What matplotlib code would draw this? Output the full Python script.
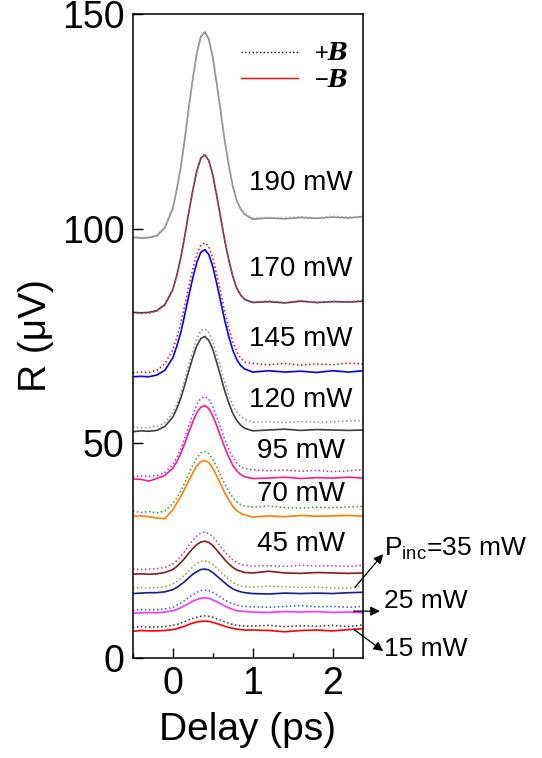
import matplotlib
matplotlib.use("Agg")
import matplotlib.pyplot as plt
from matplotlib.lines import Line2D
from matplotlib.ticker import MultipleLocator

plt.rcParams['font.family'] = ['Liberation Sans', 'DejaVu Sans']
plt.rcParams['mathtext.fontset'] = 'custom'
plt.rcParams['mathtext.rm'] = 'Liberation Sans'
plt.rcParams['mathtext.it'] = 'Liberation Sans:italic'
plt.rcParams['mathtext.bf'] = 'Liberation Sans:bold'
plt.rcParams['mathtext.bfit'] = 'DejaVu Serif:italic:bold'

# delay axis (ps)
delay = [-0.5, -0.4, -0.3, -0.2, -0.1, 0.0, 0.05, 0.1, 0.15, 0.2, 0.25, 0.3, 0.35, 0.4, 0.45, 0.5,
         0.55, 0.6, 0.65, 0.7, 0.75, 0.8, 0.85, 0.9, 1.0, 1.2, 1.4, 1.6, 1.8, 2.0, 2.2, 2.38]

# R (uV) for -B (solid) and +B (dotted), one pair per power
r190_neg = [98.0, 97.8, 97.9, 98.3, 100.2, 104.7, 109.1, 114.3, 120.9, 128.2, 134.9, 140.8, 144.7, 145.8, 144.2, 139.9,
            133.7, 127.1, 120.4, 114.7, 109.9, 106.5, 104.5, 103.3, 102.2, 102.5, 102.3, 102.6, 102.4, 102.7, 102.5, 102.8]
r190_pos = [98.2, 98.0, 98.1, 98.5, 100.4, 104.9, 109.3, 114.5, 121.0, 128.3, 135.0, 140.9, 144.8, 145.9, 144.4, 140.1,
            133.9, 127.3, 120.6, 114.9, 110.1, 106.7, 104.7, 103.5, 102.5, 102.6, 102.6, 102.8, 102.5, 102.9, 102.7, 102.9]
r170_neg = [80.5, 80.4, 80.5, 80.9, 82.3, 85.8, 89.1, 93.2, 98.3, 103.8, 108.9, 113.4, 116.4, 117.2, 115.9, 112.5,
            107.6, 102.4, 97.2, 92.7, 88.9, 86.1, 84.5, 83.5, 82.8, 83.0, 82.7, 83.1, 82.8, 83.0, 82.9, 83.1]
r170_pos = [80.3, 80.2, 80.3, 80.7, 82.1, 85.7, 89.0, 93.1, 98.2, 103.7, 108.9, 113.4, 116.5, 117.3, 116.0, 112.6,
            107.8, 102.6, 97.4, 92.9, 89.1, 86.3, 84.6, 83.6, 82.9, 83.2, 82.8, 83.3, 82.7, 83.1, 83.0, 83.3]
r145_neg = [65.5, 65.6, 65.5, 65.9, 67.0, 69.9, 72.6, 75.8, 80.0, 84.4, 88.5, 92.1, 94.5, 95.1, 94.0, 91.2,
            87.2, 82.9, 78.6, 74.9, 71.7, 69.5, 68.1, 67.3, 66.6, 66.9, 66.6, 66.8, 66.5, 66.9, 66.6, 66.9]
r145_pos = [66.4, 66.6, 66.5, 67.0, 68.5, 71.8, 74.6, 78.0, 82.2, 86.7, 90.6, 94.0, 96.2, 96.7, 95.8, 93.2,
            89.3, 85.0, 80.7, 76.9, 73.7, 71.3, 69.8, 68.9, 68.6, 68.3, 68.6, 68.2, 68.5, 68.3, 68.7, 68.4]
r120_neg = [52.7, 52.9, 52.8, 53.0, 53.9, 56.1, 58.1, 60.5, 63.6, 66.9, 70.0, 72.7, 74.4, 74.9, 74.0, 71.9,
            68.8, 65.5, 62.2, 59.4, 57.0, 55.3, 54.2, 53.5, 52.9, 53.1, 53.3, 53.0, 53.2, 53.1, 53.0, 53.1]
r120_pos = [53.8, 53.6, 53.7, 53.9, 54.8, 57.1, 59.1, 61.7, 64.8, 68.3, 71.5, 74.3, 76.2, 76.7, 75.9, 73.7,
            70.7, 67.4, 64.1, 61.3, 58.9, 57.2, 56.2, 55.6, 54.9, 55.0, 54.8, 55.1, 54.9, 55.0, 55.2, 55.3]
r95_neg = [41.7, 41.6, 41.2, 41.8, 42.5, 44.2, 45.7, 47.6, 50.0, 52.6, 55.0, 57.1, 58.4, 58.8, 58.1, 56.4,
           54.1, 51.5, 49.0, 46.8, 44.9, 43.6, 42.7, 42.2, 41.8, 41.9, 42.1, 41.8, 42.0, 41.9, 42.1, 41.9]
r95_pos = [42.2, 42.4, 42.3, 42.5, 43.2, 45.0, 46.7, 48.7, 51.3, 54.1, 56.7, 59.0, 60.5, 60.9, 60.3, 58.5,
           56.1, 53.5, 50.9, 48.6, 46.7, 45.4, 44.5, 44.1, 43.8, 43.6, 43.8, 43.5, 43.7, 43.4, 43.6, 43.9]
r70_neg = [33.0, 33.1, 32.9, 32.6, 32.4, 34.5, 36.1, 37.6, 39.4, 41.3, 43.1, 44.7, 45.7, 46.0, 45.5, 44.2,
           42.4, 40.4, 38.5, 36.8, 35.3, 34.3, 33.7, 33.3, 32.8, 33.1, 32.9, 33.2, 33.0, 33.1, 33.2, 33.0]
r70_pos = [34.2, 33.9, 34.1, 33.8, 34.2, 36.0, 37.3, 38.9, 40.8, 42.9, 44.9, 46.6, 47.8, 48.1, 47.6, 46.3,
           44.5, 42.5, 40.5, 38.8, 37.4, 36.4, 35.7, 35.4, 35.1, 35.4, 35.0, 34.9, 35.1, 35.0, 35.2, 35.3]
r45_neg = [19.5, 19.6, 19.5, 19.6, 19.9, 20.6, 21.3, 22.2, 23.2, 24.4, 25.5, 26.4, 27.0, 27.2, 26.9, 26.2,
           25.1, 24.0, 22.9, 21.9, 21.1, 20.5, 20.2, 19.9, 19.8, 20.2, 19.8, 19.7, 19.9, 19.8, 19.7, 19.8]
r45_pos = [20.8, 20.6, 20.7, 20.8, 21.1, 21.9, 22.7, 23.7, 24.8, 26.2, 27.4, 28.4, 29.1, 29.3, 29.0, 28.2,
           27.1, 25.9, 24.7, 23.7, 22.8, 22.2, 21.8, 21.6, 21.4, 21.5, 21.3, 21.6, 21.4, 21.5, 21.3, 21.6]
r35_neg = [15.0, 15.1, 15.2, 15.2, 15.4, 15.9, 16.4, 17.1, 17.8, 18.7, 19.5, 20.1, 20.6, 20.7, 20.5, 19.9,
           19.1, 18.3, 17.5, 16.7, 16.1, 15.7, 15.4, 15.2, 15.0, 14.9, 15.1, 15.0, 15.1, 15.0, 15.2, 15.3]
r35_pos = [16.2, 16.4, 16.3, 16.4, 16.6, 17.2, 17.8, 18.5, 19.4, 20.3, 21.2, 22.0, 22.5, 22.6, 22.4, 21.8,
           20.9, 20.0, 19.1, 18.3, 17.6, 17.1, 16.8, 16.6, 16.5, 16.7, 16.6, 16.4, 16.5, 16.3, 16.2, 16.9]
r25_neg = [10.4, 10.5, 10.6, 10.5, 10.7, 11.0, 11.3, 11.7, 12.2, 12.7, 13.2, 13.6, 13.9, 14.0, 13.9, 13.5,
           13.1, 12.6, 12.1, 11.7, 11.3, 11.0, 10.9, 10.8, 10.7, 10.6, 10.8, 10.7, 10.8, 10.6, 10.7, 10.5]
r25_pos = [11.1, 11.3, 11.2, 11.2, 11.4, 11.8, 12.3, 12.8, 13.4, 14.1, 14.7, 15.3, 15.7, 15.8, 15.7, 15.3,
           14.7, 14.1, 13.5, 13.0, 12.6, 12.3, 12.1, 12.0, 11.9, 11.8, 12.0, 12.2, 11.9, 12.0, 11.8, 12.0]
r15_neg = [6.2, 6.4, 6.3, 6.3, 6.4, 6.6, 6.8, 7.1, 7.4, 7.8, 8.1, 8.4, 8.5, 8.6, 8.5, 8.3,
           8.0, 7.7, 7.4, 7.1, 6.9, 6.7, 6.6, 6.5, 6.5, 6.4, 6.1, 6.4, 6.5, 6.3, 6.6, 6.8]
r15_pos = [7.1, 7.3, 7.2, 7.2, 7.3, 7.6, 7.8, 8.1, 8.5, 8.9, 9.2, 9.5, 9.7, 9.8, 9.7, 9.5,
           9.1, 8.8, 8.4, 8.1, 7.8, 7.6, 7.5, 7.4, 7.4, 7.6, 7.3, 7.5, 7.4, 7.6, 7.3, 7.7]

curves_neg = [r190_neg, r170_neg, r145_neg, r120_neg, r95_neg, r70_neg, r45_neg, r35_neg, r25_neg, r15_neg]
curves_pos = [r190_pos, r170_pos, r145_pos, r120_pos, r95_pos, r70_pos, r45_pos, r35_pos, r25_pos, r15_pos]
colors_neg = ['#8c8c8c', '#404040', '#0000ff', '#404040', '#ff1a8c', '#ff8000', '#8b1a1a', '#1a1a8c', '#ff33ff', '#ff0000']
colors_pos = ['#a8a8a8', '#ff3380', '#ff0000', '#909090', '#9933ff', '#339933', '#aa44aa', '#999933', '#3355ff', '#333333']

# power labels next to the curves
power_labels = ['190 mW', '170 mW', '145 mW', '120 mW', '95 mW', '70 mW', '45 mW']
label_y = [110.7, 90.5, 74.4, 60.2, 48.1, 38.1, 26.5]

# low-power labels outside the frame, with arrows (tail on curve -> head at text)
low_labels = ['P$_{\\mathrm{inc}}$=35 mW', '25 mW', '15 mW']
low_text_y = [25.3, 13.3, 2.1]
arrow_tail = [(2.28, 16.5), (2.26, 10.9), (2.26, 6.7)]
arrow_head = [(2.63, 24.2), (2.59, 10.9), (2.63, 1.6)]

fig = plt.figure(figsize=(5.42, 7.58), dpi=100)
ax = fig.add_axes([0.245, 0.132, 0.425, 0.8495])

for yn, yp, cn, cp in zip(curves_neg, curves_pos, colors_neg, colors_pos):
    ax.plot(delay, yn, color=cn, lw=1.2, ls='-')
    ax.plot(delay, yp, color=cp, lw=1.1, ls=':')

for txt, yy in zip(power_labels, label_y):
    ax.text(1.6, yy, txt, fontsize=20, ha='center', va='center')

for txt, yy, tail, head in zip(low_labels, low_text_y, arrow_tail, arrow_head):
    ax.text(2.64, yy, txt, fontsize=19, ha='left', va='center', clip_on=False)
    ax.annotate('', xy=head, xytext=tail, annotation_clip=False,
                arrowprops=dict(arrowstyle='-|>', color='k', lw=0.9, mutation_scale=14,
                                shrinkA=0, shrinkB=0))

handles = [Line2D([], [], color='k', ls=':', lw=1.0),
           Line2D([], [], color='#ff0000', ls='-', lw=1.0)]
ax.legend(handles, ['$+\\boldsymbol{B}$', '$-\\boldsymbol{B}$'], loc='upper right',
          bbox_to_anchor=(1.0, 0.977), frameon=False, fontsize=17, handlelength=2.4,
          handletextpad=0.7, labelspacing=0.2, borderaxespad=0.2)

ax.set_xlim(-0.5, 2.38)
ax.set_ylim(0, 150)
ax.set_xticks([0, 1, 2])
ax.xaxis.set_minor_locator(MultipleLocator(0.5))
ax.set_yticks([0, 50, 100, 150])
ax.tick_params(which='both', direction='in', width=1.0, labelsize=27)
ax.tick_params(which='major', length=7, pad=6)
ax.tick_params(which='minor', length=3.6)
for sp in ax.spines.values():
    sp.set_linewidth(1.1)

ax.set_xlabel('Delay (ps)', fontsize=28, labelpad=7)
ax.set_ylabel('R (\u03bcV)', fontsize=28)
ax.yaxis.set_label_coords(-0.34, 0.5)

fig.savefig('out.png', dpi=100)
